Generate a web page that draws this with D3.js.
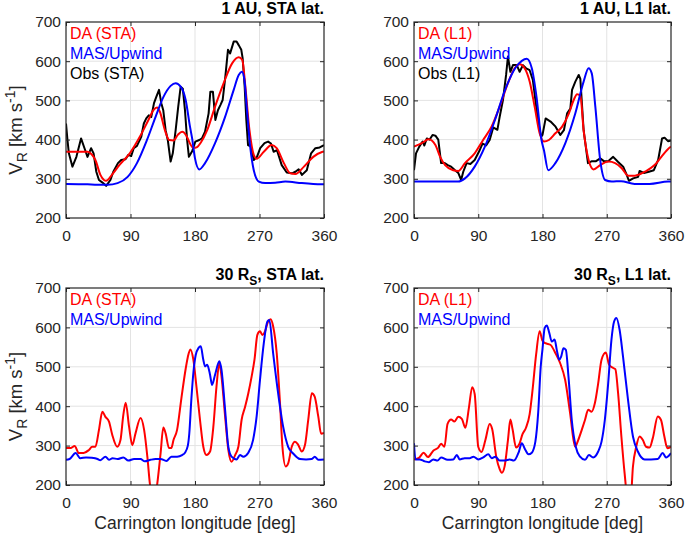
<!DOCTYPE html>
<html><head><meta charset="utf-8">
<script src="https://cdn.jsdelivr.net/npm/d3@7"></script>
<style>body{margin:0;background:#fff} text{font-family:"Liberation Sans",Arial,Helvetica,sans-serif}</style>
</head><body><svg id="c" width="685" height="534"></svg>
<script>
// ---- tick values ----
const xTicks = [0, 90, 180, 270, 360];
const yTicks = [200, 300, 400, 500, 600, 700];

// ---- 1 AU, STA latitude : [longitude, V_R] ----
const auStaDA = [[0,369],[20,369],[30,369],[36,362],[41,348],[48,310],[53,297],[56,295],[64,310],[75,336],[89,365],[103,407],[115,450],[122,475],[127,482],[131,471],[138,424],[144,399],[150,398],[156,412],[162,420],[168,410],[173,390],[178,379],[183,381],[188,392],[197,424],[208,484],[220,544],[232,595],[241,610],[246,603],[250,540],[256,424],[262,361],[266,351],[276,369],[287,386],[294,378],[304,340],[313,314],[320,312],[332,331],[345,356],[358,369],[360,370]];
const auStaMAS = [[0,287],[30,286],[44,285],[58,285],[72,289],[86,305],[99,340],[113,399],[125,458],[136,509],[146,537],[153,544],[160,535],[167,501],[173,433],[176,403],[180,352],[186,324],[194,340],[208,391],[222,458],[234,527],[241,565],[245.5,573],[249,552],[252.5,475],[257,382],[262,322],[269,293],[278,289],[292,290],[306,293],[329,289],[345,287],[360,286]];
const auStaObs = [[0,441],[2,400],[4,365],[9,331],[14.5,356],[21,403],[25.8,378],[30,356],[35,378],[38.5,365],[42.3,318],[46,297],[50.5,291],[56,282],[62,297],[66,318],[72.5,340],[77,348],[83,350],[87,361],[91,358],[94.5,378],[99,384],[105,407],[108.6,441],[112,454],[115.5,462],[119,458],[122.8,493],[126,509],[129.8,527],[133,493],[135.7,475],[139,424],[142,399],[146,344],[149,365],[153,424],[156.6,484],[160,535],[163,530],[166,475],[169,399],[171.5,356],[176,370],[180.5,395],[186,399],[189.7,403],[194,420],[199,467],[201.4,522],[205,522],[208.4,450],[212,475],[215.4,488],[218.6,501],[222.3,560],[226,629],[229,620],[234,650],[238,650],[241,641],[244.6,629],[246.5,607],[249.3,535],[251.6,450],[254,386],[258,382],[262,348],[266.5,356],[271,378],[277,391],[282,395],[286,390],[289.7,369],[294.4,373],[301,335],[308,316],[315.4,314],[320,318],[324.6,324],[329.3,310],[336,322],[342,365],[348,378],[354,380],[360,386]];

// ---- 1 AU, L1 latitude ----
const auL1DA = [[0,382],[11,391],[20.4,401],[30,386],[36.6,356],[43.6,335],[55,322],[62,320],[71.4,340],[85,365],[96.8,399],[108.6,433],[120,484],[131.6,544],[141,582],[148,592],[155,582],[162,548],[169,484],[176,416],[182,395],[189,399],[198,416],[207.5,433],[217,467],[223.7,501],[228.4,516],[233,512],[237.6,424],[244.6,348],[251.5,324],[260.8,335],[272.4,344],[281.7,340],[291,327],[300,308],[309.5,308],[323.4,318],[337,335],[346.5,356],[357,378],[360,382]];
const auL1MAS = [[0,293],[62,293],[71.4,301],[85,331],[99.3,382],[113.4,450],[127.6,527],[141.7,582],[151,601],[158,606],[165,582],[171.6,509],[178.6,399],[182,373],[188,322],[198,340],[212,391],[226,467],[237.6,548],[244.6,582],[249,569],[254,484],[260.8,348],[267.7,297],[277,293],[290,294],[309,287],[330,287],[356,293],[360,293]];
const auL1Obs = [[0,322],[2.8,365],[7.4,382],[12,395],[14.5,385],[18,403],[22,400],[26,412],[30,410],[34,400],[38,340],[43,340],[47.3,335],[52,331],[57.5,322],[62,315],[66,297],[69,318],[73.7,340],[79,338],[85,348],[92,373],[96,390],[101,385],[106,399],[111,431],[116.8,425],[120,458],[124.6,501],[129,565],[131.6,612],[135,573],[138.6,590],[144,590],[148,573],[152.6,590],[157,582],[162,577],[166.5,552],[173.5,450],[178,407],[180,412],[184.4,454],[191.3,446],[198.3,433],[205,412],[210,424],[214.5,467],[219,479],[221.4,527],[226,548],[230.7,565],[233,555],[237.6,424],[243.7,340],[249.2,345],[255,345],[260.8,352],[266,345],[272,345],[279,356],[286,343],[293,331],[298,310],[301,295],[307,301],[314,305],[316,320],[322,315],[329,318],[336,322],[342,348],[347.5,403],[351,405],[355.8,396],[360,398]];

// ---- 30 Rs, STA latitude ----
const rsStaDA = [[0,294],[6.5,294],[12,299],[18,281],[24.5,281],[32,289],[36.5,297],[41,297],[46,340],[50.7,386],[55,373],[60,361],[64.6,327],[71.5,297],[76,314],[80,378],[83.3,409],[88,348],[92.5,301],[97,331],[104,370],[109,340],[113.5,272],[117,204],[122,150],[127.4,204],[132,281],[135.8,346],[139,331],[143.7,294],[147,294],[150,314],[155,340],[161,420],[167,495],[170,525],[173.5,544],[177.7,518],[182,450],[187,365],[191.6,297],[196,276],[201,285],[205.6,348],[210,450],[214,509],[217,475],[222,374],[226.5,289],[231,259],[236,276],[240.5,297],[245,365],[250,399],[254.4,433],[259,475],[263,518],[267,581],[270.7,590],[274,581],[277.7,590],[282,615],[285.6,621],[289,603],[294,535],[298.6,408],[302,297],[306.5,247],[310,255],[315,297],[319.5,310],[324,302],[329,285],[333.5,302],[338,365],[343,433],[347,424],[352,374],[356,330],[360,332]];
const rsStaMAS = [[0,264],[5,266],[13.5,281],[20,268],[28,270],[36,269],[44,266],[48,263],[55,272],[60,264],[65,268],[72,266],[80,270],[87,262],[95,266],[104,266],[110,260],[118,264],[125,266],[132,266],[140,261],[147,272],[155,272],[162,276],[166,282],[170,300],[172,330],[175,420],[178,490],[181,530],[185,548],[188,552],[191.6,518],[194,501],[197,505],[201,480],[203.7,454],[208,480],[214,514],[217,492],[222,391],[226.5,297],[231,272],[238,265],[242.8,276],[247.4,272],[254.4,282],[261,314],[266,374],[270.7,467],[276,560],[281,615],[283.7,619],[289,535],[296,433],[303,348],[310,297],[317,280],[326.5,266],[335,265],[343,266],[347,272],[352,264],[360,265]];

// ---- 30 Rs, L1 latitude ----
const rsL1DA = [[0,265],[7,269],[13.5,282],[19.5,271],[27,287],[34,295],[38,305],[42.6,297],[47,355],[52,366],[56.5,361],[62,373],[67,368],[72,345],[77,397],[81.5,448],[85,431],[90,297],[94.5,284],[100,314],[106,355],[109.5,342],[115.4,270],[120,240],[123,231],[127,248],[131.6,314],[135,366],[138,342],[143,295],[147.6,304],[152,329],[157,346],[162,380],[166,440],[171,530],[176,590],[180,566],[184,560],[191,556],[198,535],[204.8,509],[211.7,467],[218.7,382],[225.6,297],[230,314],[235,340],[239.5,365],[244,391],[248.8,386],[253.4,408],[258,458],[262.7,518],[268.7,536],[273.3,505],[279,497],[282,494],[285.9,433],[290.5,323],[295,230],[299.8,160],[303.5,165],[306.7,247],[311.3,297],[316,323],[320.6,314],[325,297],[330,295],[334.5,319],[341.5,374],[346,365],[350.7,323],[355,293],[360,297]];
const rsL1MAS = [[0,306],[2,265],[8,265],[15,260],[21,258],[27,265],[33,262],[38,270],[47,264],[55,265],[60,276],[64,265],[71,268],[78,268],[83.4,272],[90,265],[97,270],[104,278],[109,268],[114,272],[120,262],[127,262],[134,265],[140,262],[147,285],[151,306],[155.5,291],[160.5,278],[165,282],[170,310],[174,385],[177.5,500],[180,545],[183,598],[186,605],[189.5,586],[193,564],[197,569],[200,543],[203.4,518],[206,525],[209.4,547],[212.7,543],[216.4,475],[221,365],[226.6,297],[232.6,272],[239.5,264],[245,276],[251,270],[258,285],[262.7,310],[267.3,365],[272,458],[276.6,569],[280.3,615],[283.5,624],[288,594],[292.8,526],[299.8,416],[306.7,323],[313.6,285],[323,265],[332,265],[341.5,266],[348.4,281],[353,270],[360,281]];

// ---- labels ----
const titles = [["1 AU, STA lat."], ["1 AU, L1 lat."], ["30 R", "S", ", STA lat."], ["30 R", "S", ", L1 lat."]];
const legends = [["DA (STA)", "MAS/Upwind", "Obs (STA)"], ["DA (L1)", "MAS/Upwind", "Obs (L1)"], ["DA (STA)", "MAS/Upwind"], ["DA (L1)", "MAS/Upwind"]];
const seriesSets = [[auStaDA, auStaMAS, auStaObs], [auL1DA, auL1MAS, auL1Obs], [rsStaDA, rsStaMAS], [rsL1DA, rsL1MAS]];
const colors = ["#ff0000", "#0000ff", "#000000"];

// ---- layout ----
const boxes = [
  {x0:66, x1:324, y0:22, y1:218},
  {x0:414, x1:671, y0:22, y1:218},
  {x0:66, x1:324, y0:288, y1:485},
  {x0:414, x1:671, y0:288, y1:485}
];
const svg = d3.select("#c");
const axisCol = "#262626";

boxes.forEach((b, i) => {
  const x = d3.scaleLinear().domain([0, 360]).range([b.x0, b.x1]);
  const y = d3.scaleLinear().domain([200, 700]).range([b.y1, b.y0]);
  const g = svg.append("g");

  // grid
  g.selectAll(".gx").data(xTicks.slice(1, -1)).enter().append("line")
    .attr("x1", d => x(d)).attr("x2", d => x(d)).attr("y1", b.y0).attr("y2", b.y1)
    .attr("stroke", "#e3e3e3").attr("stroke-width", 1);
  g.selectAll(".gy").data(yTicks.slice(1, -1)).enter().append("line")
    .attr("y1", d => y(d)).attr("y2", d => y(d)).attr("x1", b.x0).attr("x2", b.x1)
    .attr("stroke", "#e3e3e3").attr("stroke-width", 1);

  // clip
  const cid = "clip" + i;
  svg.append("clipPath").attr("id", cid).append("rect")
    .attr("x", b.x0).attr("y", b.y0).attr("width", b.x1 - b.x0).attr("height", b.y1 - b.y0);

  const sets = seriesSets[i];
  const order = sets.length === 3 ? [2, 0, 1] : [0, 1];
  order.forEach(k => {
    const line = d3.line().x(d => x(d[0])).y(d => y(d[1]))
      .curve(k === 2 ? d3.curveLinear : d3.curveMonotoneX);
    g.append("path").datum(sets[k]).attr("d", line)
      .attr("fill", "none").attr("stroke", colors[k]).attr("stroke-width", 2)
      .attr("stroke-linejoin", "round").attr("clip-path", "url(#" + cid + ")");
  });

  // axes
  const ax = g.append("g").attr("transform", `translate(0,${b.y1})`)
    .call(d3.axisBottom(x).tickValues(xTicks).tickSizeInner(-4).tickSizeOuter(0).tickPadding(12));
  const ay = g.append("g").attr("transform", `translate(${b.x0},0)`)
    .call(d3.axisLeft(y).tickValues(yTicks).tickSizeInner(-4).tickSizeOuter(0).tickPadding(5));
  const at = g.append("g").attr("transform", `translate(0,${b.y0})`)
    .call(d3.axisTop(x).tickValues(xTicks).tickSizeInner(-4).tickSizeOuter(0).tickFormat(""));
  const ar = g.append("g").attr("transform", `translate(${b.x1},0)`)
    .call(d3.axisRight(y).tickValues(yTicks).tickSizeInner(-4).tickSizeOuter(0).tickFormat(""));
  [ax, ay, at, ar].forEach(a => {
    a.select(".domain").remove();
    a.selectAll("line").attr("stroke", axisCol);
    a.selectAll("text").attr("fill", axisCol).style("font-size", "15.5px")
      .style("font-family", '"Liberation Sans", Arial, sans-serif');
  });
  g.append("rect").attr("x", b.x0).attr("y", b.y0).attr("width", b.x1 - b.x0).attr("height", b.y1 - b.y0)
    .attr("fill", "none").attr("stroke", axisCol).attr("stroke-width", 1.2);

  // title
  const t = titles[i];
  const tt = g.append("text").attr("x", b.x1).attr("y", b.y0 - 8).attr("text-anchor", "end")
    .style("font-size", "16px").style("font-weight", "bold").attr("fill", "#000");
  tt.append("tspan").text(t[0]);
  if (t.length > 1) {
    tt.append("tspan").attr("dy", 5).style("font-size", "12px").text(t[1]);
    tt.append("tspan").attr("dy", -5).text(t[2]);
  }

  // legend
  legends[i].forEach((s, k) => {
    g.append("text").attr("x", b.x0 + 4).attr("y", b.y0 + 17 + k * 20)
      .attr("fill", colors[k]).style("font-size", "16px").text(s);
  });

  // y label on left panels
  if (i % 2 === 0) {
    const cy = (b.y0 + b.y1) / 2 + 10;
    const yl = g.append("text").attr("transform", `translate(22,${cy}) rotate(-90)`)
      .attr("text-anchor", "middle").attr("fill", axisCol).style("font-size", "18.5px");
    yl.append("tspan").text("V");
    yl.append("tspan").attr("dy", 5).style("font-size", "14px").text("R");
    yl.append("tspan").attr("dy", -5).text(" [km s");
    yl.append("tspan").attr("dy", -7).style("font-size", "14px").text("-1");
    yl.append("tspan").attr("dy", 7).text("]");
  }
  // x label on bottom panels
  if (i >= 2) {
    g.append("text").attr("x", (b.x0 + b.x1) / 2).attr("y", 529).attr("text-anchor", "middle")
      .attr("fill", axisCol).style("font-size", "17.5px").text("Carrington longitude [deg]");
  }
});
</script></body></html>
